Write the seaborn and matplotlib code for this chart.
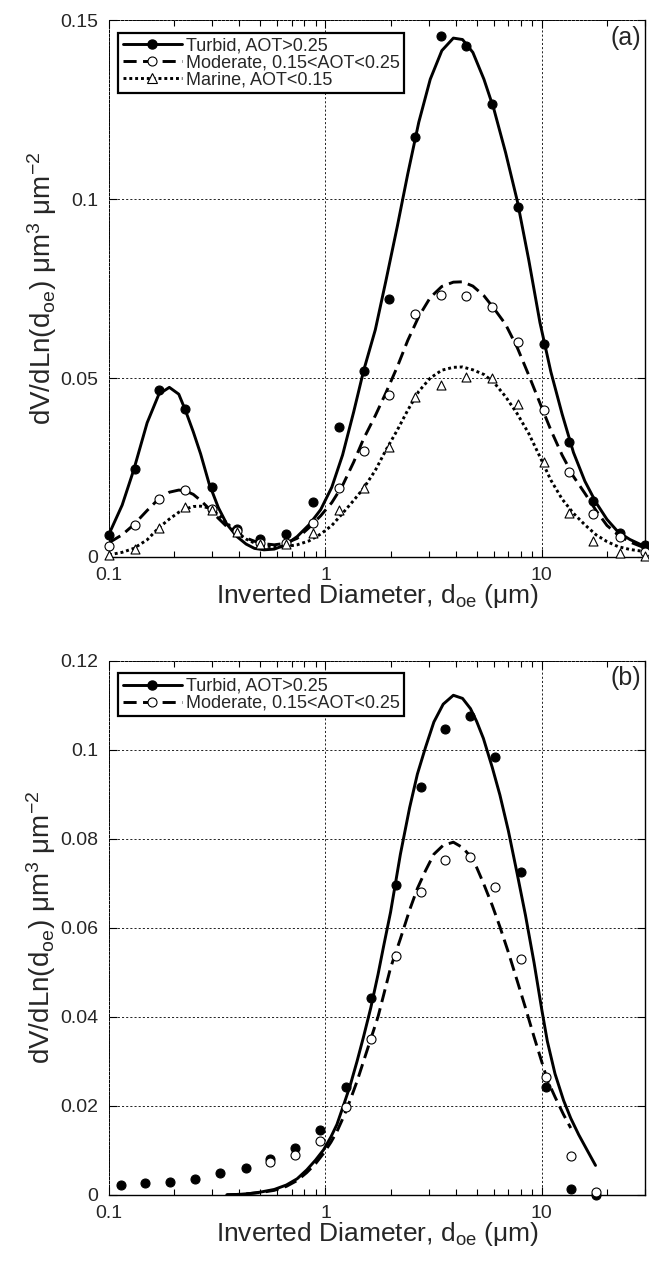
import numpy as np
import matplotlib
matplotlib.use("Agg")
import matplotlib.pyplot as plt
import matplotlib.ticker as mticker
from matplotlib.lines import Line2D
import seaborn as sns

# ====================== data ======================
# panel (a): measured points
xa = [0.10, 0.132, 0.17, 0.225, 0.30, 0.39, 0.50, 0.66, 0.88, 1.15, 1.51,
      1.96, 2.58, 3.43, 4.46, 5.88, 7.76, 10.2, 13.4, 17.3, 23.0, 30.0]
turbid_a = [0.0061, 0.0246, 0.0466, 0.0413, 0.0196, 0.0078, 0.0050, 0.0064,
            0.0154, 0.0363, 0.0519, 0.0721, 0.1175, 0.1455, 0.1427, 0.1267,
            0.0977, 0.0596, 0.0322, 0.0157, 0.0068, 0.0033]
moderate_a = [0.0031, 0.0089, 0.0162, 0.0187, 0.0134, 0.0072, 0.0039, 0.0040,
              0.0095, 0.0193, 0.0295, 0.0453, 0.0680, 0.0732, 0.0729, 0.0698,
              0.0602, 0.0410, 0.0237, 0.0119, 0.0055, 0.0015]
marine_a = [0.0006, 0.0022, 0.0081, 0.0140, 0.0130, 0.0070, 0.0037, 0.0035,
            0.0067, 0.0130, 0.0193, 0.0307, 0.0447, 0.0480, 0.0502, 0.0499,
            0.0428, 0.0265, 0.0123, 0.0045, 0.0012, 0.0004]

# panel (a): fitted curves
cxa = [0.10, 0.115, 0.13, 0.15, 0.17, 0.19, 0.21, 0.225, 0.245, 0.265, 0.29,
       0.32, 0.35, 0.39, 0.43, 0.47, 0.52, 0.58, 0.65, 0.74, 0.84, 0.95, 1.07,
       1.2, 1.35, 1.5, 1.7, 1.9, 2.15, 2.4, 2.7, 3.05, 3.45, 3.9, 4.3, 4.8,
       5.4, 6.0, 6.8, 7.7, 8.7, 9.8, 11.0, 12.4, 14.0, 15.8, 17.8, 20.0,
       22.5, 25.5, 30.0]
turbid_fit_a = [0.0064, 0.0145, 0.0243, 0.0375, 0.0455, 0.0474, 0.0455, 0.0411,
                0.0350, 0.0288, 0.0205, 0.0138, 0.0092, 0.0057, 0.0036, 0.0024,
                0.0020, 0.0022, 0.0033, 0.0057, 0.0090, 0.0132, 0.0195, 0.0285,
                0.0405, 0.0520, 0.0635, 0.0770, 0.0925, 0.1070, 0.1215, 0.1335,
                0.1415, 0.1450, 0.1446, 0.1410, 0.1335, 0.1252, 0.1130, 0.0995,
                0.0830, 0.0655, 0.0518, 0.0400, 0.0292, 0.0212, 0.0152, 0.0105,
                0.0070, 0.0049, 0.0029]
moderate_fit_a = [0.0040, 0.0062, 0.0090, 0.0130, 0.0163, 0.0181, 0.0187, 0.0185,
                  0.0175, 0.0158, 0.0135, 0.0108, 0.0085, 0.0066, 0.0053, 0.0044,
                  0.0037, 0.0034, 0.0038, 0.0052, 0.0082, 0.0115, 0.0152, 0.0200,
                  0.0265, 0.0330, 0.0395, 0.0458, 0.0532, 0.0605, 0.0672, 0.0725,
                  0.0756, 0.0768, 0.0769, 0.0757, 0.0730, 0.0695, 0.0650, 0.0585,
                  0.0508, 0.0430, 0.0355, 0.0285, 0.0225, 0.0178, 0.0130, 0.0088,
                  0.0062, 0.0042, 0.0025]
marine_fit_a = [0.0006, 0.0013, 0.0024, 0.0048, 0.0082, 0.0106, 0.0125, 0.0134,
                0.0141, 0.0142, 0.0137, 0.0118, 0.0095, 0.0068, 0.0050, 0.0039,
                0.0031, 0.0028, 0.0029, 0.0034, 0.0045, 0.0064, 0.0088, 0.0122,
                0.0158, 0.0192, 0.0242, 0.0298, 0.0355, 0.0410, 0.0463, 0.0500,
                0.0522, 0.0530, 0.0531, 0.0523, 0.0510, 0.0488, 0.0448, 0.0400,
                0.0345, 0.0280, 0.0215, 0.0162, 0.0122, 0.0090, 0.0062, 0.0043,
                0.0029, 0.0021, 0.0015]

# panel (b): measured points
xb = [0.113, 0.147, 0.192, 0.25, 0.326, 0.428, 0.556, 0.726, 0.948, 1.24,
      1.62, 2.12, 2.75, 3.56, 4.68, 6.10, 7.98, 10.4, 13.6, 17.7]
turbid_b = [0.0022, 0.0027, 0.0028, 0.0036, 0.0049, 0.0061, 0.0080, 0.0105,
            0.0146, 0.0242, 0.0442, 0.0695, 0.0915, 0.1046, 0.1076, 0.0984,
            0.0725, 0.0242, 0.0013, 0.0000]
xb_mod = [0.556, 0.726, 0.948, 1.24, 1.62, 2.12, 2.75, 3.56, 4.68, 6.10,
          7.98, 10.4, 13.6, 17.7]
moderate_b = [0.0073, 0.0090, 0.0120, 0.0198, 0.0351, 0.0536, 0.0680, 0.0753,
              0.0759, 0.0691, 0.0530, 0.0265, 0.0088, 0.0007]

# panel (b): fitted curves
cxb = [0.35, 0.4, 0.45, 0.5, 0.58, 0.66, 0.74, 0.82, 0.9, 0.98, 1.06, 1.13,
       1.22, 1.3, 1.4, 1.5, 1.62, 1.75, 1.86, 2.0, 2.22, 2.45, 2.66, 2.9,
       3.17, 3.5, 3.9, 4.3, 4.68, 5.0, 5.37, 5.9, 6.4, 7.0, 7.7, 8.4, 9.2,
       10.0, 10.6, 11.5, 12.6, 13.6, 14.8, 16.2, 17.7]
turbid_fit_b = [0.0000, 0.0001, 0.0003, 0.0006, 0.0012, 0.0022, 0.0036, 0.0056,
                0.0078, 0.0101, 0.0130, 0.0158, 0.0205, 0.0245, 0.0300, 0.0355,
                0.0420, 0.0495, 0.0560, 0.0635, 0.0765, 0.0870, 0.0945, 0.1005,
                0.1062, 0.1102, 0.1122, 0.1115, 0.1092, 0.1063, 0.1025, 0.0960,
                0.0898, 0.0818, 0.0720, 0.0628, 0.0522, 0.0415, 0.0345, 0.0272,
                0.0212, 0.0172, 0.0135, 0.0100, 0.0066]
cxb_mod = cxb[:42]
moderate_fit_b = [0.0000, 0.0001, 0.0003, 0.0005, 0.0010, 0.0019, 0.0032, 0.0050,
                  0.0070, 0.0093, 0.0118, 0.0142, 0.0178, 0.0212, 0.0255, 0.0300,
                  0.0350, 0.0400, 0.0450, 0.0510, 0.0575, 0.0640, 0.0688, 0.0728,
                  0.0765, 0.0785, 0.0792, 0.0780, 0.0760, 0.0735, 0.0700, 0.0650,
                  0.0602, 0.0545, 0.0480, 0.0420, 0.0355, 0.0298, 0.0258, 0.0220,
                  0.0180, 0.0150]

labels = ['Turbid, AOT>0.25', 'Moderate, 0.15<AOT<0.25', 'Marine, AOT<0.15']

# ====================== style ======================
sns.set_style("ticks")
plt.rcParams['font.family'] = ['Liberation Sans', 'DejaVu Sans']
plt.rcParams['mathtext.fontset'] = 'custom'
plt.rcParams['mathtext.rm'] = 'Liberation Sans'
plt.rcParams['mathtext.it'] = 'Liberation Sans:italic'
plt.rcParams['mathtext.bf'] = 'Liberation Sans:bold'

DASH = (0, (4.5, 2.2))
DOT = (0, (1, 1))
LW = 2.1

fig = plt.figure(figsize=(6.49, 12.63), dpi=100)
ax1 = fig.add_axes([0.168, 0.559, 0.826, 0.425])
ax2 = fig.add_axes([0.168, 0.054, 0.826, 0.423])


def style_axis(ax, ymax, ystep):
    ax.set_xscale('log')
    ax.set_xlim(0.1, 30)
    ax.set_ylim(0, ymax)
    ax.xaxis.set_major_locator(mticker.FixedLocator([0.1, 1, 10]))
    ax.xaxis.set_major_formatter(mticker.FixedFormatter(['0.1', '1', '10']))
    ax.xaxis.set_minor_locator(mticker.LogLocator(base=10, subs=np.arange(2, 10)))
    ax.xaxis.set_minor_formatter(mticker.NullFormatter())
    ax.yaxis.set_major_locator(mticker.MultipleLocator(ystep))
    ax.yaxis.set_major_formatter(mticker.FuncFormatter(lambda v, p: f"{v:g}"))
    ax.tick_params(which='both', direction='in', top=True, right=True,
                   color='black', labelsize=14)
    ax.tick_params(which='major', length=6, width=0.8)
    ax.tick_params(which='minor', length=4, width=0.8)
    ax.tick_params(axis='y', pad=8)
    ax.tick_params(axis='x', pad=7)
    ax.grid(True, which='major', color='black', linestyle=(0, (2.5, 2.5)),
            linewidth=0.6)
    for side in ['bottom', 'right']:
        ax.spines[side].set_linewidth(1.0)
        ax.spines[side].set_color('black')
    for side in ['top', 'left']:
        ax.spines[side].set_linewidth(0.7)
        ax.spines[side].set_linestyle((0, (2.5, 1.5)))
        ax.spines[side].set_color('black')
    ax.set_xlabel('Inverted Diameter, d$_{\\mathrm{oe}}$ (μm)', fontsize=19,
                  labelpad=-1)
    ax.set_ylabel('dV/dLn(d$_{\\mathrm{oe}}$) μm$^{3}$ μm$^{-2}$', fontsize=20,
                  labelpad=1)


def points(ax, x, y, marker, face, size):
    sns.scatterplot(x=x, y=y, ax=ax, marker=marker, s=size, color=face,
                    edgecolor='black', linewidth=0.8, zorder=4, clip_on=False,
                    legend=False)


def add_legend(ax, handles, texts):
    leg = ax.legend(handles, texts, loc='upper left',
                    bbox_to_anchor=(0.017, 0.976), borderaxespad=0,
                    fontsize=13, handlelength=3.3, handletextpad=0.2,
                    labelspacing=0.0, borderpad=0.25, fancybox=False,
                    framealpha=1, edgecolor='black')
    leg.get_frame().set_linewidth(1.6)
    return leg


h_turbid = Line2D([], [], color='black', lw=LW, marker='o', ms=6.5,
                  mfc='black', mec='black')
h_mod = Line2D([], [], color='black', lw=LW, ls=DASH, marker='o', ms=6.5,
               mfc='white', mec='black', mew=0.8)
h_mar = Line2D([], [], color='black', lw=LW, ls=DOT, marker='^', ms=6.5,
               mfc='white', mec='black', mew=0.8)

# ====================== panel (a) ======================
sns.lineplot(x=cxa, y=turbid_fit_a, ax=ax1, color='black', linewidth=LW)
sns.lineplot(x=cxa, y=moderate_fit_a, ax=ax1, color='black', linewidth=LW,
             linestyle=DASH)
sns.lineplot(x=cxa, y=marine_fit_a, ax=ax1, color='black', linewidth=LW,
             linestyle=DOT)
points(ax1, xa, turbid_a, 'o', 'black', 42)
points(ax1, xa, moderate_a, 'o', 'white', 42)
points(ax1, xa, marine_a, '^', 'white', 42)
style_axis(ax1, 0.15, 0.05)
ax1.text(0.992, 0.99, '(a)', transform=ax1.transAxes, ha='right', va='top',
         fontsize=18)
add_legend(ax1, [h_turbid, h_mod, h_mar], labels)

# ====================== panel (b) ======================
sns.lineplot(x=cxb, y=turbid_fit_b, ax=ax2, color='black', linewidth=LW)
sns.lineplot(x=cxb_mod, y=moderate_fit_b, ax=ax2, color='black', linewidth=LW,
             linestyle=DASH)
points(ax2, xb, turbid_b, 'o', 'black', 42)
points(ax2, xb_mod, moderate_b, 'o', 'white', 42)
style_axis(ax2, 0.12, 0.02)
ax2.text(0.992, 0.99, '(b)', transform=ax2.transAxes, ha='right', va='top',
         fontsize=18)
add_legend(ax2, [h_turbid, h_mod], labels[:2])

fig.savefig('out.png', dpi=100)
